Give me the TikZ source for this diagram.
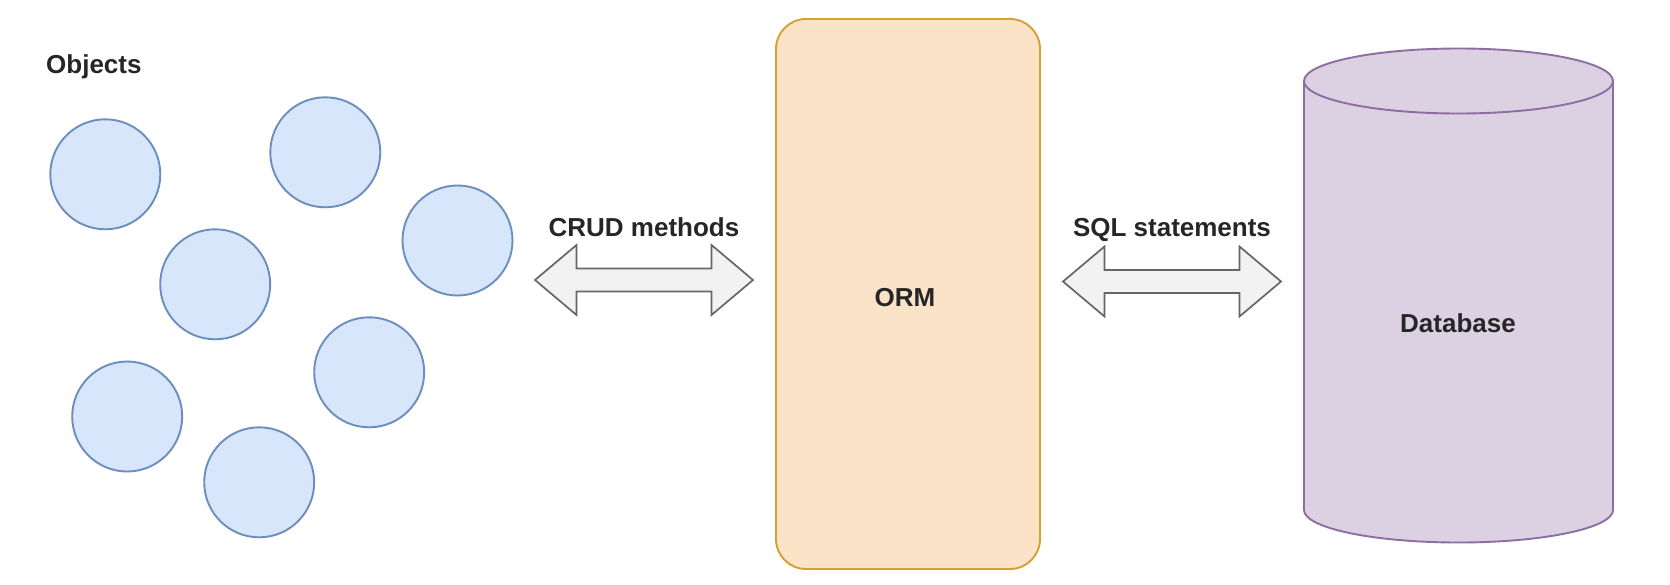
\documentclass[tikz,border=0pt]{standalone}
\usepackage{fontspec}
\setmainfont{Liberation Sans}
\usetikzlibrary{shapes.geometric}
\definecolor{objfill}{HTML}{D8E6FB}
\definecolor{objline}{HTML}{6C8EBF}
\definecolor{ormfill}{HTML}{FAE3C6}
\definecolor{ormline}{HTML}{D6A033}
\definecolor{dbfill}{HTML}{DCD0E3}
\definecolor{dbline}{HTML}{8E6DA3}
\definecolor{arrfill}{HTML}{F2F2F2}
\definecolor{arrline}{HTML}{666666}
\definecolor{txt}{HTML}{262626}
\tikzset{
  obj/.style={circle, draw=objline, fill=objfill, line width=1.9pt, minimum size=110pt, inner sep=0pt},
  ormbox/.style={rectangle, rounded corners=30pt, draw=ormline, fill=ormfill, line width=1.9pt, minimum width=264pt, minimum height=550pt, inner sep=0pt},
  dbshape/.style={draw=dbline, fill=dbfill, line width=1.9pt},
  dbfront/.style={draw=dbline, line width=1.9pt},
  fatarrow/.style={draw=arrline, fill=arrfill, line width=1.7pt, line join=miter},
  lbl/.style={text=txt, font=\fontsize{26}{30}\selectfont\bfseries, inner sep=0pt}
}
\begin{document}
\begin{tikzpicture}[x=1pt,y=-1pt]
\path[fill=white] (0,0) rectangle (1670,584);
\useasboundingbox (0,0) rectangle (1670,584);

% Objects
\node[lbl, anchor=base west] (objtitle) at (46,73) {Objects};
\node[obj] (o1) at (105.3,174.3) {};
\node[obj] (o2) at (325.3,152.3) {};
\node[obj] (o3) at (457.5,240.5) {};
\node[obj] (o4) at (215.2,284.3) {};
\node[obj] (o5) at (369.2,372.3) {};
\node[obj] (o6) at (127.2,416.5) {};
\node[obj] (o7) at (259.2,482.3) {};

% ORM
\node[ormbox] (orm) at (908,294) {};
\node[lbl, anchor=base] (ormlbl) at (905,306) {ORM};

% Database cylinder
\coordinate (dbTL) at (1304,81);
\coordinate (dbBL) at (1304,510);
\coordinate (dbTR) at (1613,81);
\path[dbshape] (dbTL) -- (dbBL)
  arc[start angle=180, end angle=360, x radius=154.5pt, y radius=32.5pt]
  -- (dbTR)
  arc[start angle=0, end angle=180, x radius=154.5pt, y radius=32.5pt] -- cycle;
\path[dbfront] (dbTL) arc[start angle=180, end angle=360, x radius=154.5pt, y radius=32.5pt];
\node[lbl, anchor=base] (dblabel) at (1458,332) {Database};

% CRUD arrow
\coordinate (crudL) at (535,280);
\draw[fatarrow] (crudL) -- ++(41.5,-35) -- ++(0,23.5) -- ++(135,0) -- ++(0,-23.5)
  -- ++(41.5,35) -- ++(-41.5,35) -- ++(0,-23.5) -- ++(-135,0) -- ++(0,23.5) -- cycle;
\node[lbl, anchor=base] (crudlbl) at (644,236) {CRUD methods};

% SQL arrow
\coordinate (sqlL) at (1063,281.5);
\draw[fatarrow] (sqlL) -- ++(41.5,-35) -- ++(0,23.5) -- ++(135,0) -- ++(0,-23.5)
  -- ++(41.5,35) -- ++(-41.5,35) -- ++(0,-23.5) -- ++(-135,0) -- ++(0,23.5) -- cycle;
\node[lbl, anchor=base] (sqllbl) at (1172,236) {SQL statements};
\end{tikzpicture}
\end{document}
